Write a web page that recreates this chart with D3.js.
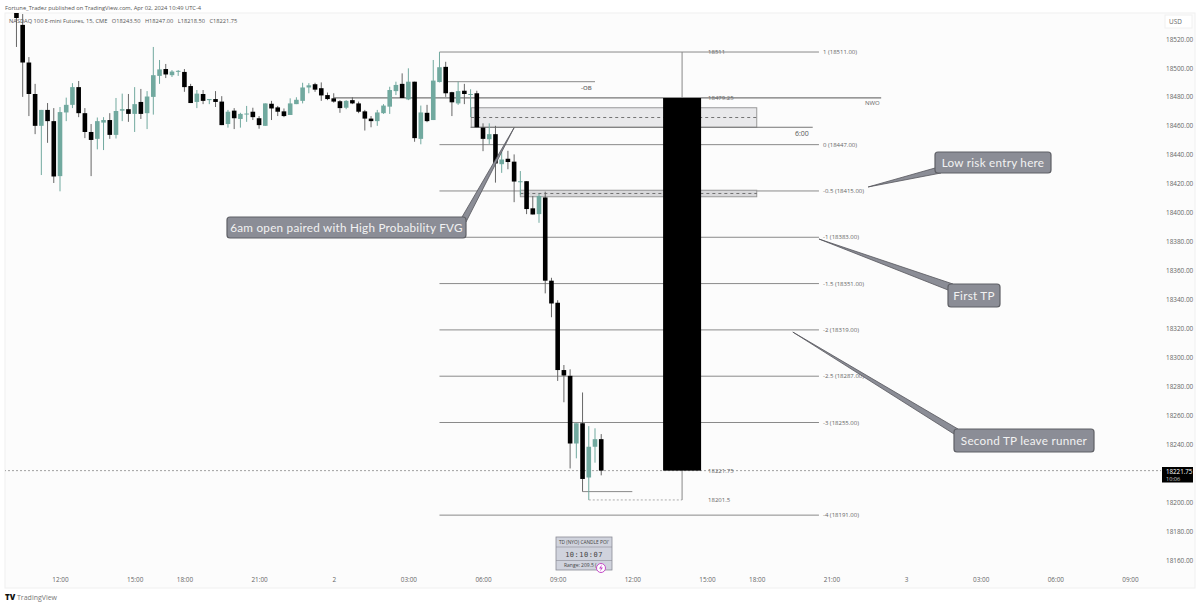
<!DOCTYPE html>
<html>
  <head>
    <meta charset="utf-8">
    <script src="https://d3js.org/d3.v7.min.js"></script>
    <style type="text/css">
      body { margin: 0; background: #fff; }
      svg { display: block; }
      text { font-family: "Open Sans", sans-serif; }
      .axis path, .axis line { display: none; }
      .axis text { font-family: "Open Sans", sans-serif; font-size: 6.4px; fill: #666; }
      .fib { stroke: #8a8a8a; stroke-width: 1; }
      .lbl { font-size: 6px; fill: #666; }
      .callout text { font-family: Lato, sans-serif; font-size: 11.7px; fill: #f2f2f2; letter-spacing: 0.25px; }
    </style>
  </head>
  <body>
    <div class="plot_canvas"></div>
    <script>
      // bar number, 0 = first 12:00 on the time axis
      var firstBar = -7;

      // open, high, low, close of the 15 min bars
      var ohlc = [
        [18541.5,18546,18514.5,18534.5],[18529.75,18537.25,18480,18503.75],[18503.75,18507.5,18466.75,18482],
        [18482,18489,18454.25,18460],[18460,18471,18426,18471],[18471,18475.75,18448.25,18463.25],
        [18463.25,18472.25,18420.5,18425],[18425.25,18473,18414.75,18469.5],[18469.25,18479.5,18463.25,18474.5],
        [18474.5,18489.5,18472.25,18486.75],[18486.75,18491,18466,18468.75],[18468.75,18472.25,18451.5,18455.75],
        [18455.75,18461.25,18425.25,18450.25],[18451,18465.75,18443.75,18463.25],[18462.25,18466,18443.25,18464],
        [18464,18468.75,18451,18453.75],[18453.75,18479.25,18451.25,18470.25],[18470.5,18482.25,18463.25,18471.5],
        [18471.5,18482,18462.75,18468.25],[18468.25,18486.75,18455.75,18475],[18476.5,18485.5,18464.75,18468.25],
        [18468.75,18484,18457.75,18480.25],[18480,18514.5,18467.75,18495],[18494.5,18505.5,18489,18499],
        [18499.25,18502.75,18493,18495.5],[18495,18498.5,18493.75,18497.5],[18497.5,18498.5,18494.5,18498],
        [18497.25,18499.25,18483.5,18486.75],[18487.5,18489,18475.75,18475.75],[18476.5,18484.75,18472.25,18482.25],
        [18482,18484.75,18475,18477.25],[18477.75,18478.5,18475,18478.5],[18478.5,18484,18473,18476.5],
        [18476.75,18480.5,18460.5,18460.5],[18461.25,18471,18458.75,18469.75],[18470.5,18472.25,18457.75,18465.25],
        [18464.75,18469,18458.75,18468.25],[18468.25,18473.75,18462.75,18468.5],[18469.75,18472.5,18464,18466],
        [18465.25,18466.75,18458,18460.5],[18460,18475.5,18460,18475.5],[18475.25,18477.25,18464,18472],
        [18472.75,18473.75,18466.75,18469.75],[18470,18472,18466,18466.75],[18467.5,18479,18467.5,18475.5],
        [18475,18479.75,18475,18478],[18477.25,18489.75,18475.5,18486.5],[18486.5,18489.5,18482.5,18488],
        [18488.75,18489.75,18483.5,18485],[18486,18490,18477.25,18481],[18481.25,18483,18477.75,18478.5],
        [18479,18482.5,18476,18476.75],[18477,18477.75,18469,18472.25],[18472.5,18477.75,18471.5,18477.25],
        [18477.75,18479.75,18475,18475.5],[18475.5,18476.75,18468.75,18469.75],[18470,18471,18456.75,18465],
        [18465,18466.75,18459,18463.25],[18463.25,18471,18460,18469.25],[18468.75,18475,18468.25,18474],
        [18473.25,18487,18468.25,18484.75],[18484,18490.5,18481.25,18488.25],[18489,18496.25,18479.25,18479.25],
        [18478.25,18499.75,18477.75,18490.5],[18490.5,18490.5,18449,18451.5],[18451,18474,18447.25,18469.25],
        [18469,18474.5,18462.5,18463.25],[18464,18505.5,18464,18491.25],[18490.25,18511,18490,18500.5],
        [18500.75,18504.25,18480,18482.5],[18483.25,18483.5,18466.75,18476.25],[18475.5,18490.5,18474.5,18484],
        [18484.25,18489,18475,18482],[18481.5,18485.25,18466,18482],[18482.5,18484.25,18459,18459],
        [18458.75,18461.75,18442.5,18451],[18450.75,18461.75,18447.5,18454.25],[18454.25,18460,18420.75,18434],
        [18433.5,18442,18427.5,18436.75],[18437.25,18442.75,18430,18435],[18435.25,18440.25,18407.25,18421.5],
        [18421,18428.75,18412.25,18421.75],[18421.75,18421.75,18399,18402.5],[18403,18411.5,18398.75,18398.75],
        [18399,18413,18393,18411.5],[18410.5,18414.5,18344.25,18353],[18353,18355,18327.75,18337.25],
        [18337.75,18339.5,18283.75,18291.25],[18291.25,18294.75,18269,18287.5],[18287.25,18291.75,18223.25,18240.5],
        [18240.5,18254.5,18230.25,18254.5],[18254.5,18275.75,18207.25,18216],[18217,18252.5,18201.5,18238.25],
        [18238.25,18251,18227.25,18243.5],[18243.5,18247,18218.5,18221.75]
      ];

      var priceTicks = [18520,18500,18480,18460,18440,18420,18400,18380,18360,18340,18320,18300,18280,18260,18240,18200,18180,18160];
      var timeBars = [0,12,20,32,44,56,68,80,92,104,112,124,136,148,160,172];
      var timeLabels = ["12:00","15:00","18:00","21:00","2","03:00","06:00","09:00","12:00","15:00","18:00","21:00","3","03:00","06:00","09:00"];

      var fibLevels = [1,0,-0.5,-1,-1.5,-2,-2.5,-3,-4];
      var fibPrices = [18511,18447,18415,18383,18351,18319,18287,18255,18191];
      var fibStart = 61, fibEnd = 122;

      // projected candle: open, high, low, close, and its bar
      var bigCandle = [18479.25,18511,18201.5,18221.75];
      var bigBar = 100;

      var lastPrice = 18221.75;
      var callouts = ["Low risk entry here","First TP","Second TP leave runner","6am open paired with High Probability FVG"];
      var calloutTipBar = [129.9,122,117.8,73];
      var calloutTipPrice = [18417.75,18381.8,18317.5,18458.75];

      var width = 1200, height = 606;
      var green = "#71a99f";

      var xScale = d3.scaleLinear().domain([0,172]).range([60,1130]);
      var yScale = d3.scaleLinear().domain([18160,18520]).range([560,39]);

      var svg = d3.select(".plot_canvas").append("svg")
      .attr("width", width)
      .attr("height", height);

      svg.append("clipPath").attr("id","pane").append("rect")
      .attr("x",5).attr("y",13).attr("width",1190).attr("height",575);

      svg.append("rect")
      .attr("x",5).attr("y",13).attr("width",1190).attr("height",575)
      .attr("fill","#fcfcfc").attr("stroke","#f0f0f0");

      // header
      svg.append("text").attr("x",5).attr("y",9.5)
      .attr("font-size",5.75).attr("fill","#555")
      .text("Fortune_Tradez published on TradingView.com, Apr 02, 2024 10:49 UTC-4");

      // axes
      var yAxis = d3.axisRight(yScale).tickValues(priceTicks).tickSize(0).tickPadding(0)
      .tickFormat(function(d){ return d.toFixed(2); });
      svg.append("g").attr("class","axis").attr("transform","translate(1166,0)").call(yAxis);

      var xAxis = d3.axisBottom(xScale).tickValues(timeBars).tickSize(0).tickPadding(0)
      .tickFormat(function(d,i){ return timeLabels[i]; });
      svg.append("g").attr("class","axis").attr("transform","translate(0,577)").call(xAxis);

      var chart = svg.append("g").attr("clip-path","url(#pane)");

      // fib levels
      chart.selectAll(".fib").data(fibPrices).enter().append("line")
      .attr("class","fib")
      .attr("x1",xScale(fibStart)).attr("x2",xScale(fibEnd))
      .attr("y1",function(d){ return yScale(d); })
      .attr("y2",function(d){ return yScale(d); });

      chart.selectAll(".fibl").data(fibPrices).enter().append("text")
      .attr("class","lbl")
      .attr("x",xScale(fibEnd)+4)
      .attr("y",function(d){ return yScale(d)+2; })
      .text(function(d,i){ return fibLevels[i] + " (" + d.toFixed(2) + ")"; });

      // fvg boxes
      function box(p0,p1,b0,b1,fill){
        chart.append("rect")
        .attr("x",xScale(b0)).attr("width",xScale(b1)-xScale(b0))
        .attr("y",yScale(p0)).attr("height",yScale(p1)-yScale(p0))
        .attr("fill",fill).attr("stroke","#9a9a9a");
        chart.append("line")
        .attr("x1",xScale(b0)).attr("x2",xScale(b1))
        .attr("y1",yScale((p0+p1)/2)).attr("y2",yScale((p0+p1)/2))
        .attr("stroke","#555").attr("stroke-width",0.8).attr("stroke-dasharray","3,3");
      }
      box(18472.5,18459,66.1,112,"#e9e9eb");
      box(18415.5,18411,74,112,"#d8d8da");

      // level lines
      function hline(p,b0,b1,col,w,dash){
        chart.append("line")
        .attr("x1",xScale(b0)).attr("x2",xScale(b1))
        .attr("y1",yScale(p)).attr("y2",yScale(p))
        .attr("stroke",col).attr("stroke-width",w).attr("stroke-dasharray",dash);
      }
      hline(18479.25,44,132,"#777",1.2,null);
      hline(18459,66,121,"#777",1,null);
      hline(18490.5,62,86,"#888",1,null);
      hline(18207.25,84,92,"#888",1,null);
      hline(18201.5,85,bigBar,"#999",0.8,"2,2");
      hline(lastPrice,-9,177,"#777",0.7,"2,2");

      // candles
      var bars = chart.selectAll(".bar").data(ohlc).enter().append("g").attr("class","bar");
      bars.append("line")
      .attr("x1",function(d,i){ return xScale(firstBar+i); })
      .attr("x2",function(d,i){ return xScale(firstBar+i); })
      .attr("y1",function(d){ return yScale(d[1]); })
      .attr("y2",function(d){ return yScale(d[2]); })
      .attr("stroke",function(d){ return d[3]>=d[0] ? green : "#666"; })
      .attr("stroke-width",1);
      bars.append("rect")
      .attr("x",function(d,i){ return xScale(firstBar+i)-2.3; })
      .attr("width",4.6)
      .attr("y",function(d){ return yScale(Math.max(d[0],d[3])); })
      .attr("height",function(d){ return Math.max(1,Math.abs(yScale(d[0])-yScale(d[3]))); })
      .attr("fill",function(d){ return d[3]>=d[0] ? green : "#000"; });

      // big projected candle
      chart.append("line")
      .attr("x1",xScale(bigBar)).attr("x2",xScale(bigBar))
      .attr("y1",yScale(bigCandle[1])).attr("y2",yScale(bigCandle[2]))
      .attr("stroke","#888").attr("stroke-width",1);
      chart.append("rect")
      .attr("x",xScale(bigBar)-19).attr("width",38)
      .attr("y",yScale(bigCandle[0])).attr("height",yScale(bigCandle[3])-yScale(bigCandle[0]))
      .attr("fill","#000");

      var bigLabels = [["18511",bigCandle[1]],["18479.25",bigCandle[0]],["18221.75",bigCandle[3]],["18201.5",bigCandle[2]]];
      chart.selectAll(".bigl").data(bigLabels).enter().append("text")
      .attr("class","lbl")
      .attr("x",xScale(bigBar)+26)
      .attr("y",function(d){ return yScale(d[1])+2; })
      .text(function(d){ return d[0]; });

      // small notes
      svg.append("text").attr("class","lbl").attr("x",581).attr("y",90).attr("font-weight",600).text("-OB");
      svg.append("text").attr("class","lbl").attr("x",865).attr("y",105).text("NWO");
      svg.append("text").attr("x",795).attr("y",135.5).attr("font-size",7).attr("fill","#555").text("6:00");

      // callouts
      var boxes = [[935,152,116,21],[948,284,52,23],[954,429,140,23],[227,217,239,21]];
      var tails = [[[935,168],[941,173]],[[953,284],[948,290]],[[958,429],[954,434]],[[462,217],[466,222]]];
      callouts.forEach(function(t,i){
        var g = svg.append("g").attr("class","callout");
        var b = boxes[i], tl = tails[i];
        var tip = [xScale(calloutTipBar[i]), yScale(calloutTipPrice[i])];
        g.append("path")
        .attr("d","M"+tip+"L"+tl[0]+"L"+tl[1]+"Z")
        .attr("fill","#8b8d96").attr("stroke","#55565c").attr("stroke-width",0.8);
        g.append("rect")
        .attr("x",b[0]).attr("y",b[1]).attr("width",b[2]).attr("height",b[3]).attr("rx",3)
        .attr("fill","#8b8d96").attr("stroke","#5f6066").attr("stroke-width",1.2);
        g.append("text")
        .attr("x",b[0]+b[2]/2).attr("y",b[1]+b[3]/2+4.2)
        .attr("text-anchor","middle")
        .text(t);
      });

      // candle timer widget
      var w = svg.append("g");
      w.append("rect").attr("x",556).attr("y",537).attr("width",56).attr("height",33)
      .attr("fill","#d0d3dd").attr("stroke","#8a8c96").attr("stroke-width",0.8);
      w.append("line").attr("x1",556).attr("x2",612).attr("y1",547).attr("y2",547).attr("stroke","#8a8c96").attr("stroke-width",0.6);
      w.append("line").attr("x1",556).attr("x2",612).attr("y1",560.5).attr("y2",560.5).attr("stroke","#8a8c96").attr("stroke-width",0.6);
      w.append("text").attr("x",584).attr("y",543.8).attr("text-anchor","middle").attr("font-size",4.8).attr("fill","#444").text("TD (NYO) CANDLE POI'");
      w.append("text").attr("x",584).attr("y",556.5).attr("text-anchor","middle").attr("font-size",7).attr("letter-spacing",0.5).attr("fill","#444").style("font-family","DejaVu Sans Mono").text("10:10:07");
      w.append("text").attr("x",564).attr("y",567).attr("font-size",5).attr("fill","#444").text("Range: 209.5 (");
      w.append("circle").attr("cx",601).attr("cy",568).attr("r",4.5).attr("fill","#fff").attr("stroke","#c44ac8").attr("stroke-width",1);
      w.append("path").attr("d","M602,564.5L599,568.5L601,568.5L600,571.5L603,567.5L601,567.5Z").attr("fill","#c44ac8");

      // price scale extras
      svg.append("rect").attr("x",1165).attr("y",15).attr("width",27).attr("height",13).attr("fill","#fff").attr("stroke","#f0f0f0");
      svg.append("text").attr("x",1169).attr("y",24).attr("font-size",6.4).attr("fill","#666").text("USD");
      svg.append("rect").attr("x",1162).attr("y",467).attr("width",31).attr("height",15.5).attr("fill","#000");
      svg.append("text").attr("x",1166).attr("y",473.5).attr("font-size",6.2).attr("fill","#fff").text(lastPrice.toFixed(2));
      svg.append("text").attr("x",1166).attr("y",480.5).attr("font-size",5.6).attr("fill","#ccc").text("10:06");

      // legend and logo
      svg.append("text").attr("x",9).attr("y",22.5).attr("font-size",5.7).attr("fill","#555")
      .attr("xml:space","preserve")
      .text("NASDAQ 100 E-mini Futures, 15, CME   O18243.50   H18247.00   L18218.50   C18221.75");
      svg.append("text").attr("x",5).attr("y",600).attr("font-size",8).attr("font-weight",800).attr("fill","#111").text("TV");
      svg.append("text").attr("x",17).attr("y",599.5).attr("font-size",7).attr("fill","#777").text("TradingView");
    </script>
  </body>
</html>
